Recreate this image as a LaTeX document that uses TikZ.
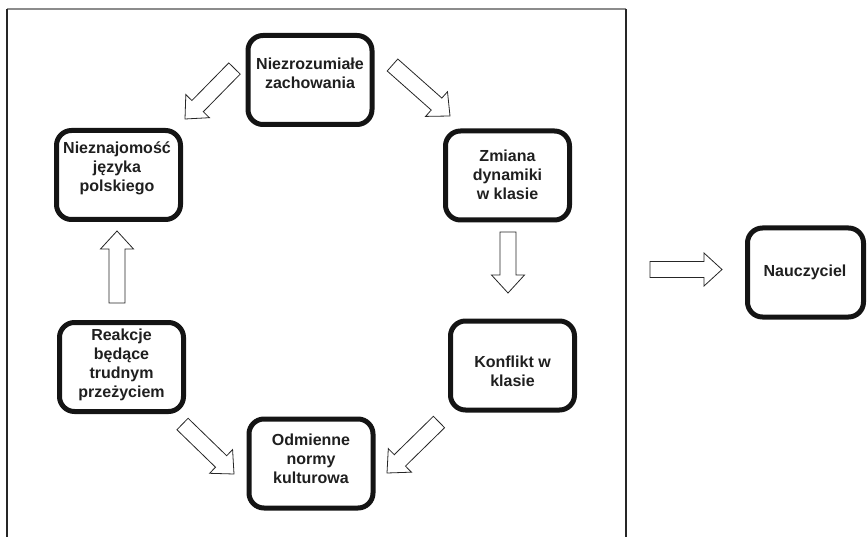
\documentclass[tikz,border=0pt]{standalone}
\usepackage{fontspec}
\setmainfont{Liberation Sans}
\usetikzlibrary{calc}
\newcommand\blockarrow[2]{%
  \coordinate (ba-n) at ($(#2)!18pt!(#1)$);
  \draw[barrow] ($(#1)!8pt!90:(#2)$) -- ($(ba-n)!8pt!90:(#2)$) -- ($(ba-n)!16.5pt!90:(#2)$) -- (#2)
    -- ($(ba-n)!16.5pt!-90:(#2)$) -- ($(ba-n)!8pt!-90:(#2)$) -- ($(#1)!8pt!-90:(#2)$) -- cycle;}
\begin{document}
\begin{tikzpicture}[x=1pt,y=-1pt,
  box/.style={draw=black!92, line width=5pt, rounded corners=15pt, minimum width=124pt,
    minimum height=89pt, inner sep=0pt},
  txt/.style={align=center, font=\fontsize{16}{19}\selectfont\bfseries, text=black!88, inner sep=0pt},
  barrow/.style={draw=black!85, line width=0.8pt, fill=white, line join=miter}]
\useasboundingbox (0,0) rectangle (867,537);
% frame
\coordinate (f1) at (7,9.5);
\coordinate (f2) at (626,9.5);
\coordinate (f3) at (7,537);
\coordinate (f4) at (626,537);
\draw[line width=2pt, gray!90] (f1) -- (f2);
\draw[line width=1.3pt, black!85] (f1) -- (f3);
\draw[line width=1.3pt, black!85] (f2) -- (f4);
% boxes
\node[box] (b1) at (310,80) {};
\node[box] (b2) at (118.5,175) {};
\node[box] (b3) at (507.5,175.5) {};
\node[box] (b4) at (512.5,365.5) {};
\node[box] (b5) at (311,463.5) {};
\node[box] (b6) at (121.5,367) {};
\node[box, minimum width=116pt] (b7) at (805.5,272.5) {};
% texts
\node[txt] (t1) at (310,73) {Niezrozumiałe\\zachowania};
\node[txt] (t2) at (117,168) {Nieznajomość\\języka\\polskiego};
\node[txt] (t3) at (507.5,174.5) {Zmiana\\dynamiki\\w klasie};
\node[txt] (t4) at (512.5,371) {Konflikt w\\klasie};
\node[txt] (t5) at (311,458.5) {Odmienne\\normy\\kulturowa};
\node[txt] (t6) at (121.5,365) {Reakcje\\będące\\trudnym\\przeżyciem};
\node[txt] (t7) at (805,272) {Nauczyciel};
% block arrows
\coordinate (a1t) at (234.5,68.5); \coordinate (a1h) at (185,119);
\coordinate (a2t) at (392.5,65);   \coordinate (a2h) at (450,116);
\coordinate (a3t) at (508,232);    \coordinate (a3h) at (508,293);
\coordinate (a4t) at (439,422);    \coordinate (a4h) at (387,473);
\coordinate (a5t) at (182.5,424);  \coordinate (a5h) at (234,474);
\coordinate (a6t) at (117,303);    \coordinate (a6h) at (117,231);
\coordinate (a7t) at (650,269.5);  \coordinate (a7h) at (722,269.5);
\blockarrow{a1t}{a1h}
\blockarrow{a2t}{a2h}
\blockarrow{a3t}{a3h}
\blockarrow{a4t}{a4h}
\blockarrow{a5t}{a5h}
\blockarrow{a6t}{a6h}
\blockarrow{a7t}{a7h}
\end{tikzpicture}
\end{document}
